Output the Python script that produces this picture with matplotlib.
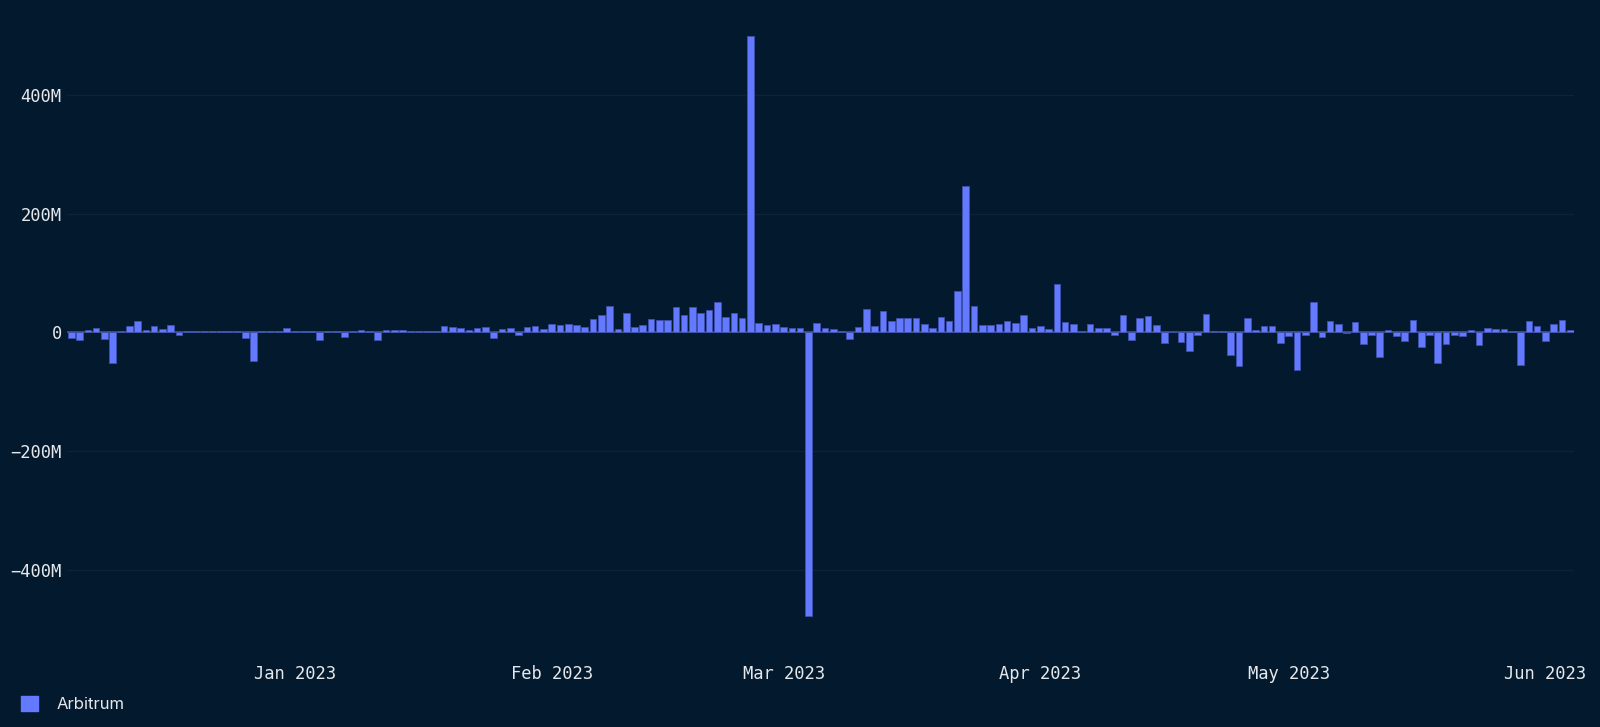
import numpy as np
import pandas as pd
import matplotlib
matplotlib.use("Agg")
import matplotlib.pyplot as plt
import matplotlib.dates as mdates
from matplotlib.patches import Patch
from matplotlib.ticker import FuncFormatter

# ── datos: flujo neto diario (millones USD), 5 dic 2022 → 4 jun 2023 ──
start_date = "2022-12-05"
series_name = "Arbitrum"
net_flow_m = [
    -9.5, -13.5, 3.4, 7.3, -11, -52, 1.5, 11, 19, 4,
    10.7, 5.6, 13, -4, 2.8, 2.8, 1.5, 1.5, 1.5, 1.5,
    1.5, -9.5, -49, 1.5, 1.5, 1.5, 7.3, 1.5, 2.8, 2.8,
    -13.5, 2.8, 1.5, -8.4, 1.5, 4, 2.8, -12.4, 4.5, 4.5,
    4.5, 2.8, 2.8, 1.5, 2.8, 11, 8.4, 7.3, 3.4, 6.8,
    9, -9.5, 6.2, 7.9, -4, 9.6, 10.7, 5.6, 14.6, 12.4,
    14, 12.4, 9.6, 22.5, 29, 45, 5.6, 33, 9, 11.8,
    23, 21, 21, 43, 29, 42, 33, 38, 51, 26.5,
    32.6, 24, 500, 16.3, 11.8, 14.6, 9, 6.8, 7.3, -478,
    16.3, 7.3, 5.6, 1.5, -11.8, 8.4, 39, 10, 35.5, 19,
    23.6, 23.6, 24.8, 14.6, 6.8, 26, 19.7, 70, 246, 45,
    12.4, 12.4, 13.5, 18.6, 16.3, 29, 6.8, 10.7, 6.2, 82,
    17.5, 14.6, 3, 14.6, 6.8, 7.3, -4, 29, -12.4, 25,
    28, 12.4, -18.6, 1, -15.8, -32, -4, 31.5, 2.8, 1.5,
    -37.7, -57, 25, 4, 11, 11, -17.5, -6.2, -63, -4,
    50.7, -8.4, 19, 14.6, -1.5, 18, -20, -4, -41.7, 4.5,
    -6.8, -14, 21, -24, -4, -52, -20, -4.5, -6.8, 4,
    -21, 7.3, 5, 6.2, 3, -55, 18.6, 11, -15, 13.5,
    21, 4,
]
y_ticks_m = [-400, -200, 0, 200, 400]

dates = pd.date_range(start_date, periods=len(net_flow_m), freq="D")
values = np.array(net_flow_m) * 1e6

BG = "#031a2e"
BAR = "#6379ff"
TEXT = "#e6e8eb"

fig = plt.figure(figsize=(16, 7.27), dpi=100, facecolor=BG)
ax = fig.add_axes([0.042, 0.135, 0.942, 0.832])
ax.set_facecolor(BG)

ax.bar(dates, values, width=0.8, color=BAR, edgecolor="#3f4fb0",
       linewidth=0.6, zorder=3)
ax.axhline(0, color="#4b5866", linewidth=1.2, zorder=2)

ax.set_ylim(-500e6, 520e6)
ax.set_xlim(dates[0] - pd.Timedelta(hours=12), dates[-1] + pd.Timedelta(hours=12))
ax.set_yticks([v * 1e6 for v in y_ticks_m])


def fmt_m(v, pos):
    m = int(round(v / 1e6))
    if m == 0:
        return "0"
    return f"{m}M".replace("-", "\u2212")


ax.yaxis.set_major_formatter(FuncFormatter(fmt_m))
ax.xaxis.set_major_locator(mdates.MonthLocator())
ax.xaxis.set_major_formatter(mdates.DateFormatter("%b %Y"))

ax.grid(axis="y", color="#0d2438", linewidth=1, zorder=0)
for s in ax.spines.values():
    s.set_visible(False)
ax.tick_params(length=0, colors=TEXT, labelsize=12.3)
ax.tick_params(axis="y", pad=4)
ax.tick_params(axis="x", pad=26)
for lbl in ax.get_xticklabels() + ax.get_yticklabels():
    lbl.set_fontfamily("DejaVu Sans Mono")

fig.legend(handles=[Patch(facecolor=BAR, edgecolor=BAR)], labels=[series_name],
           loc="lower left", bbox_to_anchor=(0.004, 0.0), frameon=False,
           handlelength=1.0, handleheight=1.0, handletextpad=1.1,
           prop={"family": "Inter", "size": 12}, labelcolor=TEXT)

fig.savefig("out.png", dpi=100, facecolor=BG)
